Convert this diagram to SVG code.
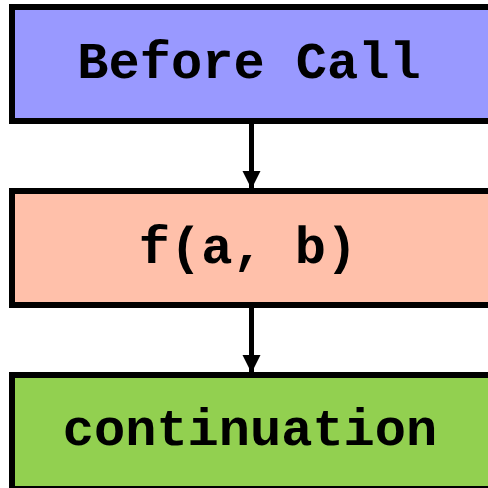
<svg xmlns="http://www.w3.org/2000/svg" width="488" height="488" viewBox="0 0 488 488">
<style>
.box{stroke:#000;stroke-width:6}
.lbl{font-family:"Liberation Mono","Courier New",monospace;font-weight:bold;font-size:52px;text-anchor:middle;fill:#000}
.edge{stroke:#000;stroke-width:5;fill:none}
</style>
<defs>
<marker id="arr" markerUnits="userSpaceOnUse" markerWidth="18" markerHeight="20" refX="18" refY="9" orient="auto">
<path d="M0,0 L18,9 L0,18 Z" fill="#000"/>
</marker>
</defs>
<rect width="488" height="488" fill="#fff"/>
<g id="edges">
<line class="edge" x1="251.5" y1="121" x2="251.5" y2="189" marker-end="url(#arr)"/>
<line class="edge" x1="251.5" y1="305" x2="251.5" y2="373" marker-end="url(#arr)"/>
</g>
<g id="before">
<rect class="box" x="12" y="7" width="480" height="114" fill="#9999ff"/>
<text class="lbl" x="249" y="78">Before Call</text>
</g>
<g id="call">
<rect class="box" x="12" y="191" width="480" height="114" fill="#ffc0aa"/>
<text class="lbl" x="248" y="263">f(a, b)</text>
</g>
<g id="continuation">
<rect class="box" x="12" y="375" width="480" height="114" fill="#92d050"/>
<text class="lbl" x="250" y="445">continuation</text>
</g>
</svg>
